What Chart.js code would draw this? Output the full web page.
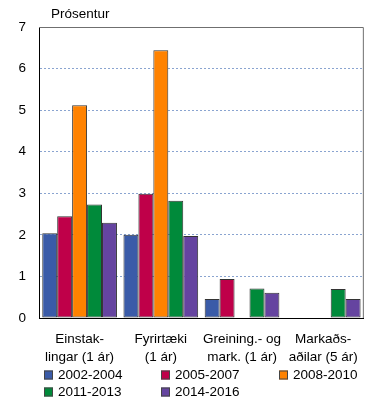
<!DOCTYPE html>
<html>
<head>
<meta charset="utf-8">
<script src="https://cdn.jsdelivr.net/npm/chart.js@4"></script>
<style>
  html, body { margin: 0; padding: 0; background: #fff; }
  #wrap { width: 370px; height: 403px; }
</style>
</head>
<body>
<div id="wrap"><canvas id="chart"></canvas></div>
<script>
const categories = [
  ["Einstak-", "lingar (1 ár)"],
  ["Fyrirtæki", "(1 ár)"],
  ["Greining.- og", "mark. (1 ár)"],
  ["Markaðs-", "aðilar (5 ár)"],
];
const seriesNames = ["2002-2004", "2005-2007", "2008-2010", "2011-2013", "2014-2016"];
const s2002 = [2.04, 2.0, 0.46, null];
const s2005 = [2.45, 2.99, 0.94, null];
const s2008 = [5.12, 6.44, null, null];
const s2011 = [2.73, 2.82, 0.71, 0.70];
const s2014 = [2.29, 1.97, 0.61, 0.46];
const yTicks = [0, 1, 2, 3, 4, 5, 6, 7];
const yTitle = "Prósentur";

const colors = ["#3a5ba8", "#bf0049", "#ff8200", "#008a3a", "#6544a0"];
const font = { family: "'Liberation Sans', Arial, sans-serif", size: 13.5 };

// frame (top/right), y title and a 3-column legend
const extras = {
  id: "extras",
  beforeDatasetsDraw(chart) {
    const { ctx, chartArea: a } = chart;
    ctx.save();
    ctx.strokeStyle = "#6f6f6f";
    ctx.lineWidth = 1;
    ctx.beginPath();
    ctx.moveTo(a.left, a.top + 0.5);
    ctx.lineTo(a.right - 0.5, a.top + 0.5);
    ctx.lineTo(a.right - 0.5, a.bottom);
    ctx.stroke();
    ctx.restore();
  },
  afterDraw(chart) {
    const { ctx, chartArea: a } = chart;
    ctx.save();
    ctx.font = `${font.size}px ${font.family}`;
    ctx.fillStyle = "#000";
    ctx.textBaseline = "middle";
    ctx.fillText(yTitle, a.left + 12, a.top - 13);
    const cols = [44, 161, 279];
    chart.data.datasets.forEach((ds, i) => {
      const x = cols[i % 3];
      const y = 375 + Math.floor(i / 3) * 17;
      ctx.fillStyle = ds.backgroundColor;
      ctx.fillRect(x, y - 4.5, 9, 9);
      ctx.strokeStyle = "#444";
      ctx.strokeRect(x + 0.5, y - 4, 8, 8);
      ctx.fillStyle = "#000";
      ctx.fillText(ds.label, x + 14, y);
    });
    ctx.restore();
  },
};

const values = [s2002, s2005, s2008, s2011, s2014];

new Chart(document.getElementById("chart"), {
  type: "bar",
  data: {
    labels: categories,
    datasets: seriesNames.map((name, i) => ({
      label: name,
      data: values[i],
      backgroundColor: colors[i],
      borderColor: "#333",
      borderWidth: 1,
      borderSkipped: false,
      categoryPercentage: 0.92,
      barPercentage: 1,
    })),
  },
  options: {
    responsive: true,
    maintainAspectRatio: false,
    animation: false,
    layout: { padding: { top: 27, right: 2, bottom: 37, left: 0 } },
    plugins: {
      legend: { display: false },
      tooltip: { enabled: false },
    },
    scales: {
      x: {
        grid: { display: false, drawTicks: false },
        border: { color: "#000", width: 1 },
        ticks: { color: "#000", font: { ...font, lineHeight: 1.35 }, padding: 12, maxRotation: 0, autoSkip: false },
        afterFit: (scale) => { scale.height = 48; },
      },
      y: {
        min: 0,
        max: 7,
        afterBuildTicks: (scale) => { scale.ticks = yTicks.map((v) => ({ value: v })); },
        grid: {
          drawTicks: false,
          color: (c) => (c.tick && (c.tick.value === 0 || c.tick.value === 7) ? "rgba(0,0,0,0)" : "#8aa4d0"),
        },
        border: { color: "#000", width: 1, dash: [2, 2] },
        ticks: { color: "#000", font, padding: 13 },
        afterFit: (scale) => { scale.width = 39; },
      },
    },
  },
  plugins: [extras],
});
</script>
</body>
</html>
